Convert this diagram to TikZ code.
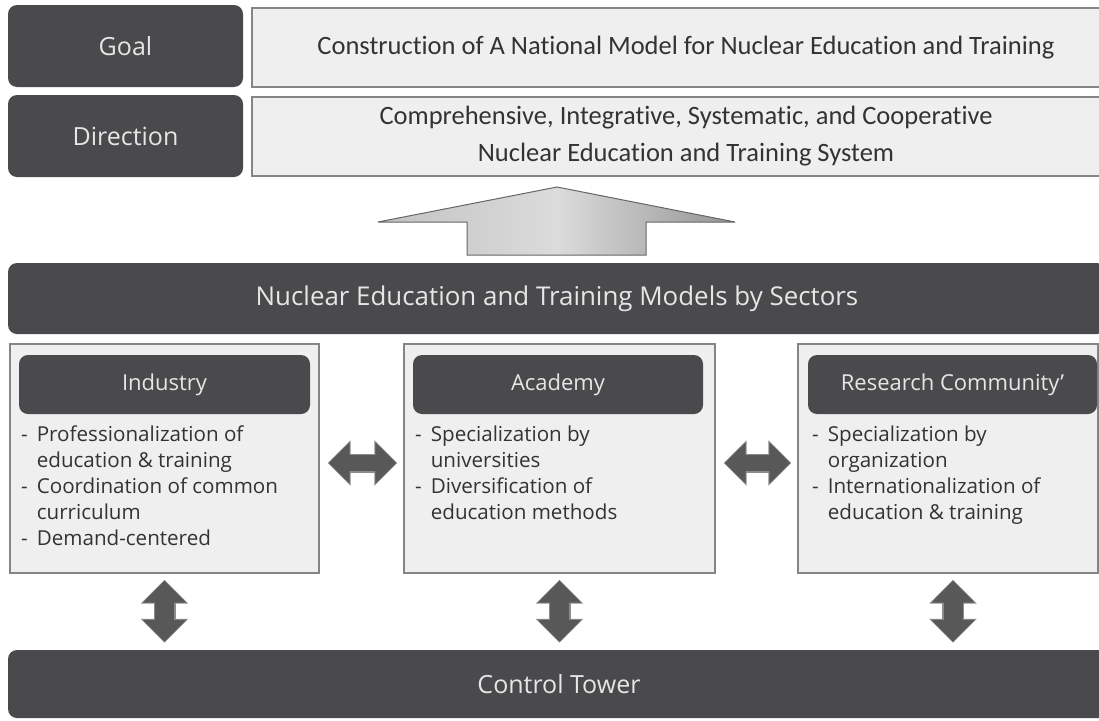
\documentclass[tikz,border=0pt]{standalone}
\usepackage{fontspec}
\setmainfont{Open Sans}
\newfontfamily\calfont[Ligatures=NoCommon]{Carlito}
\usetikzlibrary{arrows.meta}
\definecolor{darkfill}{HTML}{4A4A4C}
\definecolor{boxfill}{HTML}{EFEFF0}
\definecolor{boxline}{HTML}{858585}
\definecolor{bodytext}{HTML}{333333}
\definecolor{lighttext}{HTML}{E6E6E6}
\definecolor{arrowfill}{HTML}{585858}
\definecolor{arrowedge}{HTML}{8C8C8C}
\tikzset{
  darkbox/.style={fill=darkfill, rounded corners=9pt, inner sep=0pt, text=lighttext},
  lightbox/.style={fill=boxfill, draw=boxline, line width=1.4pt, inner sep=0pt, text=bodytext},
  headbox/.style={fill=darkfill, rounded corners=9pt, inner sep=0pt, text=lighttext,
    minimum height=59pt, font=\fontsize{22}{26}\selectfont},
  bodylist/.style={anchor=base west, inner sep=0pt, text=bodytext,
    font=\fontsize{20.6}{26}\selectfont},
  linkedge/.style={arrowedge, line width=19pt, {Triangle[width=44pt,length=23pt]}-{Triangle[width=44pt,length=23pt]}},
  linkcore/.style={arrowfill, line width=16pt, {Triangle[width=40pt,length=21pt]}-{Triangle[width=40pt,length=21pt]}},
}
\newcommand{\dashlist}[1]{\begin{tabular}[t]{@{}l@{\hspace{9pt}}l@{}}#1\end{tabular}}
\begin{document}
\begin{tikzpicture}[x=1pt,y=-1pt]
\useasboundingbox (0,0) rectangle (1099,720);
\clip (0,0) rectangle (1099,720);
\fill[white] (0,0) rectangle (1099,720);

% top rows: goal and direction
\node[darkbox, minimum width=235pt, minimum height=82pt, font=\fontsize{25}{30}\selectfont]
  (goal) at (125.5,46) {Goal};
\node[lightbox, minimum width=868pt, minimum height=79pt, font=\calfont\fontsize{26.5}{30}\selectfont]
  (goaltext) at (686,47.5) {Construction of A National Model for Nuclear Education and Training};
\node[darkbox, minimum width=235pt, minimum height=82pt, font=\fontsize{25}{30}\selectfont]
  (dir) at (125.5,136) {Direction};
\node[lightbox, minimum width=868pt, minimum height=79pt, align=center,
  font=\calfont\fontsize{26.5}{37}\selectfont]
  (dirtext) at (686,136.5) {Comprehensive, Integrative, Systematic, and Cooperative\\Nuclear Education and Training System};

% broad upward arrow
\shade[left color=black!24, right color=black!42, middle color=black!14, draw=black!60, line width=1pt]
  (557,187) -- (735,222) -- (646,222) -- (646,255) -- (467,255) -- (467,222) -- (378,222) -- cycle;

% sectors bar
\node[darkbox, minimum width=1098pt, minimum height=71pt, font=\fontsize{25.9}{30}\selectfont]
  (sectors) at (557,298.5) {Nuclear Education and Training Models by Sectors};

% sector boxes
\node[lightbox, minimum width=309pt, minimum height=229pt] (ind) at (164.5,458.5) {};
\node[lightbox, minimum width=311pt, minimum height=229pt] (aca) at (559.5,458.5) {};
\node[lightbox, minimum width=300pt, minimum height=229pt] (res) at (948,458.5) {};

\node[headbox, minimum width=291pt] (indh) at (164.5,384.5) {Industry};
\node[headbox, minimum width=290pt] (acah) at (558,384.5) {Academy};
\node[headbox, minimum width=289pt] (resh) at (952.5,384.5) {Research Community'};

\node[bodylist] (indl) at (21,441) {\dashlist{
  - & Professionalization of\\
    & education \& training\\
  - & Coordination of common\\
    & curriculum\\
  - & Demand-centered}};
\node[bodylist] (acal) at (415,441) {\dashlist{
  - & Specialization by\\
    & universities\\
  - & Diversification of\\
    & education methods}};
\node[bodylist] (resl) at (812,441) {\dashlist{
  - & Specialization by\\
    & organization\\
  - & Internationalization of\\
    & education \& training}};

% control tower bar
\node[darkbox, minimum width=1102pt, minimum height=68pt, font=\fontsize{25}{30}\selectfont]
  (ctrl) at (559,684) {Control Tower};

% links between sectors
\foreach \a/\b in {ind/aca, aca/res}{
  \draw[linkedge, shorten <=8pt, shorten >=6pt] ([yshift=-4.5pt]\a.east) -- ([yshift=-4.5pt]\b.west);
  \draw[linkcore, shorten <=9pt, shorten >=7pt] ([yshift=-4.5pt]\a.east) -- ([yshift=-4.5pt]\b.west);
}

% links to the control tower
\foreach \s/\dx in {ind/0pt, aca/0pt, res/5pt}{
  \draw[linkedge, line width=22pt, shorten <=6pt, shorten >=7pt,
    {Triangle[width=46pt,length=24pt]}-{Triangle[width=46pt,length=24pt]}]
    ([xshift=\dx]\s.south) -- ([xshift=\dx]\s.south |- ctrl.north);
  \draw[linkcore, line width=19pt, shorten <=7pt, shorten >=8pt,
    {Triangle[width=42pt,length=22pt]}-{Triangle[width=42pt,length=22pt]}]
    ([xshift=\dx]\s.south) -- ([xshift=\dx]\s.south |- ctrl.north);
}
\end{tikzpicture}
\end{document}
